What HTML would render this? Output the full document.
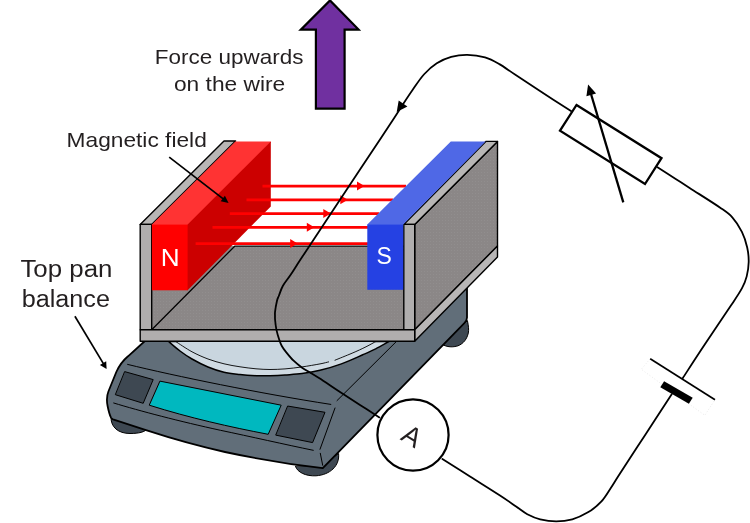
<!DOCTYPE html>
<html lang="en">
<head>
<meta charset="utf-8">
<title>Force on a current-carrying wire – top pan balance</title>
<style>
html,body{margin:0;padding:0;background:#fff;}
body{width:750px;height:523px;overflow:hidden;}
svg{display:block;will-change:transform;}
text{font-family:"Liberation Sans",sans-serif;fill:#231f20;}
</style>
</head>
<body>
<svg width="750" height="523" viewBox="0 0 750 523">
<defs><pattern id="dots" width="3" height="3" patternUnits="userSpaceOnUse"><rect width="3" height="3" fill="#8b8787"/><rect x="1" y="1" width="1" height="1" fill="#918e8e"/></pattern></defs>
<rect width="750" height="523" fill="#ffffff"/>

<!-- ===== balance ===== -->
<g id="balance" stroke="#000" stroke-linejoin="round" stroke-linecap="round">
  <!-- feet -->
  <path d="M111,418 C111,427 118,433.5 130,433.5 C139,433.5 145,432 147,429 Z" fill="#3e4852" stroke-width="1"/>
  <path d="M295.5,466.5 C297.5,472.5 306,476.3 316,475.8 C330,474.8 339.8,466 338.6,453.5 L322.5,465 Z" fill="#3e4852" stroke-width="1"/>
  <path d="M442.5,344.5 C447,347.3 453,347.4 458,345.8 C463.5,343.6 467,339 468.3,333 C468.9,330 468.6,326 467.5,321 Z" fill="#3e4852" stroke-width="1"/>
  <!-- body -->
  <path d="M146,340 L128,356.3 C122.5,361 119,366 116.3,372 L108.4,391.5 C106.6,396 106.8,402 107.6,406 C108.6,411 109.6,415 111,417.6 C111.6,418.6 112.2,419 113,419.3 L146,430.2 C170,438 200,446.5 225,452 C260,459.5 295,465 322.8,468.2 L464.6,322.8 C466.4,321 467,319.5 467,317.5 L467,250 L146,250 Z" fill="#616e79" stroke-width="1.8"/>
  <!-- pan -->
  <path d="M168.5,341.4 C170.4,343.0 176.1,348.1 180.0,351.0 C183.9,353.9 187.3,356.3 192.0,359.0 C196.7,361.7 202.7,364.8 208.0,367.0 C213.3,369.2 218.7,371.0 224.0,372.3 C229.3,373.6 234.7,374.0 240.0,374.6 C245.3,375.2 251.0,375.5 256.0,375.7 C261.0,375.9 265.2,375.8 270.0,375.7 C274.8,375.6 279.7,375.4 285.0,375.0 C290.3,374.6 296.2,374.4 302.0,373.6 C307.8,372.8 313.4,371.9 320.0,370.3 C326.6,368.7 334.3,366.5 341.4,363.9 C348.5,361.3 357.1,357.3 362.8,354.8 C368.5,352.3 371.3,351.1 375.7,348.9 C380.1,346.7 387.0,342.6 389.3,341.4 Z" fill="#d0dbe3" stroke-width="1.5"/>
  <path d="M175.5,341.4 C178.2,343.1 186.6,348.9 192.0,351.8 C197.4,354.7 202.7,357.0 208.0,359.0 C213.3,361.0 218.7,362.5 224.0,363.8 C229.3,365.1 234.7,366.0 240.0,366.8 C245.3,367.6 251.0,368.4 256.0,368.8 C261.0,369.2 265.2,369.5 270.0,369.5 C274.8,369.5 279.6,369.3 285.0,368.9 C290.4,368.5 296.3,367.7 302.1,366.9 C307.9,366.1 315.6,364.7 320.0,363.9 C324.4,363.1 326.1,362.5 328.6,361.9 C331.1,361.3 331.1,361.6 335.0,360.2 C338.9,358.8 346.9,355.4 352.1,353.2 C357.3,351.0 362.0,348.8 366.0,346.8 C370.0,344.8 374.3,342.3 376.0,341.4 Z" fill="#c9d6df" stroke="none"/>
  <path d="M175.5,341.4 C178.2,343.1 186.6,348.9 192.0,351.8 C197.4,354.7 202.7,357.0 208.0,359.0 C213.3,361.0 218.7,362.5 224.0,363.8 C229.3,365.1 234.7,366.0 240.0,366.8 C245.3,367.6 251.0,368.4 256.0,368.8 C261.0,369.2 265.2,369.5 270.0,369.5 C274.8,369.5 279.6,369.3 285.0,368.9 C290.4,368.5 296.3,367.7 302.1,366.9 C307.9,366.1 315.6,364.7 320.0,363.9 C324.4,363.1 327.2,362.2 328.6,361.9 M335.0,360.2 C337.9,359.0 346.9,355.4 352.1,353.2 C357.3,351.0 362.0,348.8 366.0,346.8 C370.0,344.8 374.3,342.3 376.0,341.4" fill="none" stroke-width="0.9"/>
  <!-- panel lines -->
  <path d="M127.6,364.4 C175,376 260,393.5 330.8,404.4" fill="none" stroke-width="1"/>
  <path d="M396.3,341.6 L337,400.6" fill="none" stroke-width="1"/>
  <path d="M335,408 L320,449.3" fill="none" stroke-width="1"/>
  <path d="M113.7,403 C140,411 180,421.5 220.5,430.3 C250,436.5 285,444.5 313.3,450.3" fill="none" stroke-width="1"/>
  <path d="M320.3,453.3 L322.7,465.3" fill="none" stroke-width="1"/>
  <!-- buttons -->
  <path d="M125,371.7 L153.2,379.6 L143.2,403.3 L115.7,394.8 Z" fill="#3e4852" stroke-width="1"/>
  <path d="M288,406.1 L325,412.3 L312.6,442.6 L276.1,435.2 Z" fill="#3e4852" stroke-width="1"/>
  <!-- display -->
  <path d="M160.3,381.2 L281.2,405.2 L268.2,434.3 C230,427 190,418 149.6,405.3 Z" fill="#00b8bf" stroke-width="1"/>
</g>

<!-- ===== tray ===== -->
<g id="tray" stroke="#000" stroke-linejoin="round">
  <!-- floor + inner face -->
  <path d="M151.7,224.4 L151.7,329.8 L403.8,329.8 L403.8,246.2 L234.7,246.2 Z" fill="url(#dots)" stroke="none"/>
  <path d="M151.7,329.8 L234.7,246.2 L403.8,246.2" fill="none" stroke-width="1.3"/>
  <!-- left plate -->
  <path d="M140.2,224.4 L224,141 L235.6,141 L151.7,224.4 Z" fill="#b8b6b5" stroke-width="1.4"/>
  <path d="M140.2,224.4 L151.7,224.4 L151.7,329.8 L140.2,329.8 Z" fill="#b0aeae" stroke-width="1.4"/>
  <!-- right plate -->
  <path d="M414.7,224.4 L497.5,141.4 L497.5,246 L414.7,329.8 Z" fill="url(#dots)" stroke-width="1.4"/>
  <path d="M403.8,224.4 L485.8,141.4 L497.5,141.4 L414.7,224.4 Z" fill="#b8b6b5" stroke-width="1.4"/>
  <path d="M403.8,224.4 L414.7,224.4 L414.7,329.8 L403.8,329.8 Z" fill="#b0aeae" stroke-width="1.4"/>
  <!-- base strips -->
  <path d="M414.7,329.8 L497.5,246 L497.5,257 L414.7,341.2 Z" fill="#b8b6b6" stroke-width="1.4"/>
  <path d="M140.2,329.8 L414.7,329.8 L414.7,341.2 L140.2,341.2 Z" fill="#b0aeae" stroke-width="1.4"/>
</g>

<!-- ===== magnets & field ===== -->
<g id="magnets">
  <!-- red -->
  <path d="M151.9,225.4 L151.9,224.6 L235.4,141.6 L270.8,141.6 L270.8,142.6 L188.4,225.4 Z" fill="#ff3333"/>
  <path d="M187,225.2 L187.6,224.6 L270.8,141.6 L270.8,206.4 L187.6,290.3 L187,290.3 Z" fill="#cc0000"/>
  <rect x="151.9" y="224.6" width="35.7" height="65.7" fill="#ff0000"/>
  <!-- field lines -->
  <g stroke="#ff0000" stroke-width="2.8" fill="#ff0000">
    <line x1="262.5" y1="186.1" x2="406" y2="186.1"/>
    <line x1="246.5" y1="199.8" x2="393" y2="199.8"/>
    <line x1="229.8" y1="213.6" x2="379" y2="213.6"/>
    <line x1="212.5" y1="227.3" x2="368" y2="227.3"/>
    <line x1="195.6" y1="243.6" x2="368" y2="243.6" stroke-width="2.9"/>
    <g stroke="none">
      <path d="M364.5,186.1 L357,181.6 L357,190.6 Z"/>
      <path d="M347.8,199.8 L340.3,195.3 L340.3,204.3 Z"/>
      <path d="M330.8,213.6 L323.3,209.1 L323.3,218.1 Z"/>
      <path d="M314.3,227.3 L306.8,222.8 L306.8,231.8 Z"/>
      <path d="M297.5,243.6 L290.2,239.1 L290.2,248.1 Z"/>
    </g>
  </g>
  <!-- blue -->
  <path d="M367.3,225.4 L367.3,224.6 L450.8,141.6 L485.6,141.6 L403.2,224.6 L403.2,225.4 Z" fill="#4f68e6"/>
  <rect x="367.3" y="224.6" width="35.9" height="65.2" fill="#2541e3"/>
  <text font-size="24.2" text-anchor="middle" style="fill:#fff" transform="translate(170.2,265.7) scale(1.08,1)">N</text>
  <text font-size="24.2" text-anchor="middle" style="fill:#fff" transform="translate(384.1,263.5) scale(0.95,1)">S</text>
</g>

<!-- ===== circuit ===== -->
<g id="circuit" fill="none" stroke="#000" stroke-width="1.8" stroke-linecap="round" stroke-linejoin="round">
  <!-- wire from resistor, over the top, down through field to ammeter -->
  <path d="M571.0,111.0 C565.8,107.7 549.3,97.1 540.0,91.0 C530.7,84.9 521.8,79.0 515.0,74.5 C508.2,70.0 504.4,67.0 499.4,64.1 C494.4,61.2 490.4,58.8 485.0,57.3 C479.6,55.8 472.9,54.9 467.3,54.8 C461.7,54.7 456.3,55.5 451.2,56.9 C446.1,58.3 441.4,60.4 436.8,63.3 C432.2,66.2 427.9,70.1 423.9,74.5 C419.9,78.9 416.2,84.8 412.7,89.8 C409.2,94.8 405.8,100.0 403.0,104.3 C400.2,108.6 399.6,109.7 395.8,115.5 C392.0,121.3 389.3,125.4 380.0,139.4 C370.7,153.5 351.1,183.0 340.0,199.8 C328.9,216.6 320.1,229.9 313.4,240.0 C306.7,250.1 303.9,254.4 300.0,260.3 C296.1,266.2 293.2,271.0 290.3,275.3 C287.4,279.6 284.7,282.6 282.8,286.0 C280.9,289.4 279.8,293.6 278.8,296.0 C277.8,298.4 277.6,298.1 277.0,300.7 C276.4,303.3 275.4,308.8 275.1,311.4 C274.8,313.9 275.0,314.6 275.0,316.0 C275.0,317.4 274.9,317.7 275.1,320.0 C275.3,322.3 275.7,326.4 276.4,329.6 C277.1,332.8 278.2,336.6 279.1,339.3 C280.0,342.0 280.6,343.9 281.8,346.0 C283.0,348.1 284.1,349.7 286.1,352.1 C288.1,354.6 290.9,358.1 293.6,360.7 C296.3,363.3 299.2,365.6 302.1,367.7 C305.0,369.8 307.1,370.8 310.7,373.0 C314.3,375.2 318.9,378.0 323.5,381.0 C328.1,384.0 332.4,387.0 338.5,391.0 C344.6,395.0 353.2,400.5 360.0,404.9 C366.8,409.3 376.2,415.3 379.4,417.4"/>
  <!-- ammeter to cell -->
  <path d="M442.4,459.0 C447.0,461.9 460.4,470.4 470.0,476.5 C479.6,482.6 492.3,490.5 500.0,495.5 C507.7,500.5 511.6,503.4 516.1,506.5 C520.6,509.6 523.3,512.1 527.3,514.2 C531.3,516.3 535.4,518.1 540.2,519.3 C545.0,520.5 550.9,521.4 556.2,521.4 C561.6,521.4 566.9,520.8 572.3,519.3 C577.7,517.8 583.6,515.0 588.4,512.1 C593.2,509.2 597.5,505.7 601.2,501.7 C604.9,497.7 607.7,492.7 610.8,488.0 C613.9,483.3 614.3,482.3 620.0,473.5 C625.7,464.7 636.4,448.4 645.0,435.2 C653.6,422.0 667.2,401.1 671.7,394.3"/>
  <!-- cell to resistor -->
  <path d="M682.7,378.2 C686.3,372.7 696.3,357.1 704.4,345.0 C712.5,332.9 724.9,314.7 731.1,305.3 C737.4,295.9 739.3,293.2 741.9,288.4 C744.5,283.6 745.6,280.8 746.7,276.4 C747.8,272.0 748.6,266.7 748.7,261.9 C748.8,257.1 748.3,252.5 747.2,247.5 C746.1,242.5 744.4,236.8 741.9,231.8 C739.4,226.8 735.9,221.3 732.3,217.3 C728.7,213.3 727.2,212.5 720.2,207.7 C713.2,202.8 697.4,193.0 690.0,188.2 C682.6,183.4 681.1,182.5 675.7,179.0 C670.3,175.5 660.5,169.2 657.5,167.3"/>
  <!-- ammeter -->
  <circle cx="413" cy="435" r="35.6" fill="#fff" stroke-width="2.2"/>
  <!-- cell -->
  <path d="M650.2,358.7 L641.3,369.3 L704.8,415.3 L715,399.7" stroke="#e3e3e3" stroke-width="0.8" stroke-dasharray="1 2" stroke-linecap="butt"/>
  <line x1="650.2" y1="358.7" x2="715" y2="399.7" stroke-width="1.7" stroke-linecap="butt"/>
  <path d="M664.1,381.2 L692.7,397.7 L688.9,403.7 L660.3,387.2 Z" fill="#000" stroke="none"/>
  <!-- variable resistor -->
  <path d="M576.5,105 L661.5,158.2 L645,184 L560,130.7 Z" stroke-width="2.3" stroke-linejoin="miter"/>
  <line x1="623.3" y1="202.4" x2="591" y2="94" stroke-width="2.3" stroke-linecap="butt"/>
  <path d="M588.1,84.6 L596.1,93.4 L586.4,96.2 Z" fill="#000" stroke="none"/>
  <!-- current arrow -->
  <path d="M396.7,112 L398.7,100.6 L407.4,106.4 Z" fill="#000" stroke="none"/>
</g>
<text x="407.2" y="444" font-size="27" text-anchor="middle" transform="rotate(31 407.2 444)">A</text>

<!-- ===== force arrow ===== -->
<path d="M330,0.4 L358.6,29.6 L344.6,29.6 L344.6,108.6 L315.9,108.6 L315.9,29.6 L300.8,29.6 Z" fill="#7030a0" stroke="#000" stroke-width="2.2" stroke-linejoin="miter"/>

<!-- ===== labels ===== -->
<g id="labels">
  <text x="154.89" y="63.6" font-size="20.6" textLength="148.55" lengthAdjust="spacingAndGlyphs">Force upwards</text>
  <text x="173.98" y="90.8" font-size="20.6" textLength="111.29" lengthAdjust="spacingAndGlyphs">on the wire</text>
  <text x="66.58" y="146.7" font-size="20.6" textLength="140.20" lengthAdjust="spacingAndGlyphs">Magnetic field</text>
  <text x="20.44" y="277.2" font-size="23" textLength="91.99" lengthAdjust="spacingAndGlyphs">Top pan</text>
  <text x="21.77" y="307.3" font-size="23" textLength="88.18" lengthAdjust="spacingAndGlyphs">balance</text>
  <g stroke="#000" stroke-width="1.7" fill="#000">
    <line x1="169.2" y1="157.1" x2="224.5" y2="199.8"/>
    <path d="M228.6,203 L220.7,201.2 L224.9,195.8 Z" stroke="none"/>
    <line x1="74.9" y1="316.2" x2="104" y2="364.6"/>
    <path d="M106.6,369 L99.9,364.9 L106.2,361.2 Z" stroke="none"/>
  </g>
</g>
</svg>
</body>
</html>
